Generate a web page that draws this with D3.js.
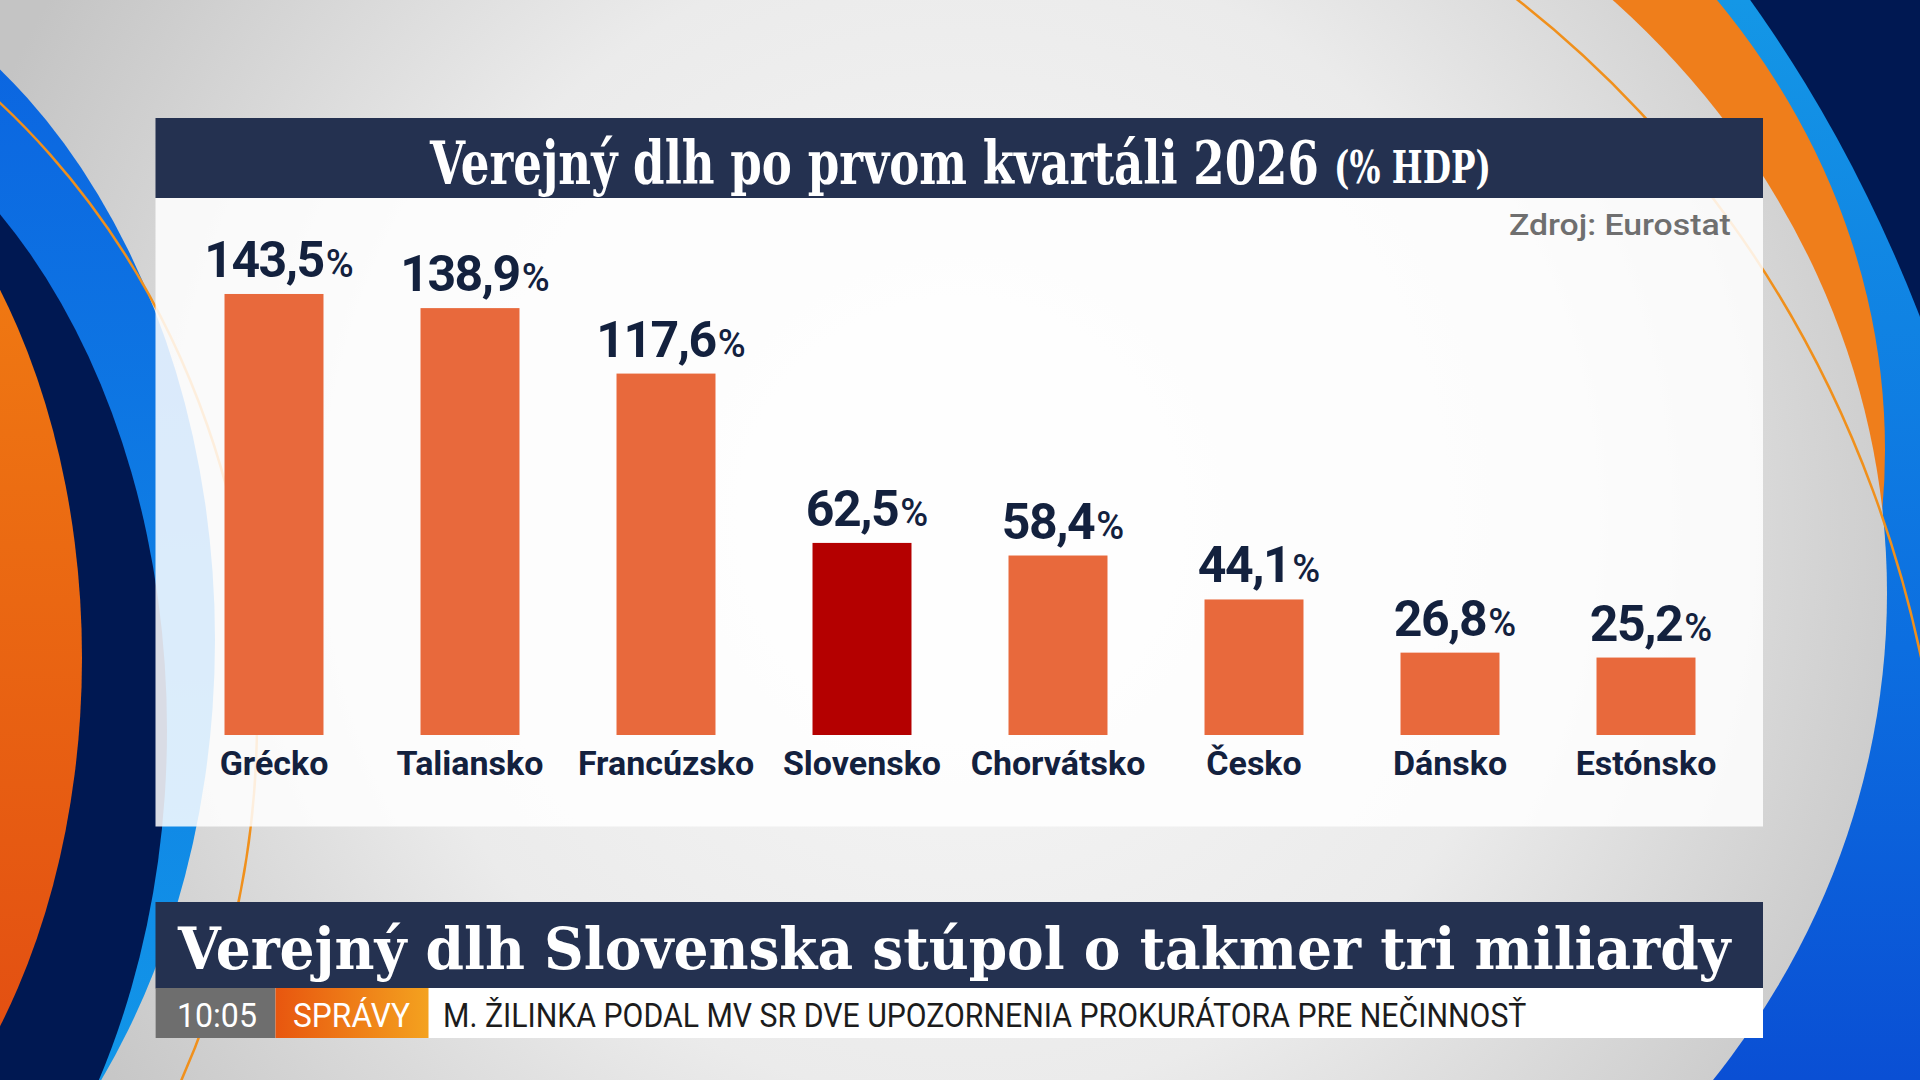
<!DOCTYPE html>
<html>
<head>
<meta charset="utf-8">
<script src="https://cdn.jsdelivr.net/npm/d3@7"></script>
<style>
  html, body { margin: 0; padding: 0; overflow: hidden; background: #dcdcdc; }
  svg { display: block; }
</style>
</head>
<body>
<svg id="chart" width="1920" height="1080"></svg>
<script>
const countries = ["Grécko", "Taliansko", "Francúzsko", "Slovensko", "Chorvátsko", "Česko", "Dánsko", "Estónsko"];
const debtValues = [143.5, 138.9, 117.6, 62.5, 58.4, 44.1, 26.8, 25.2];
const highlighted = "Slovensko";

const chartTitle = "Verejný dlh po prvom kvartáli 2026";
const titleUnit = "(% HDP)";
const sourceNote = "Zdroj: Eurostat";
const headline = "Verejný dlh Slovenska stúpol o takmer tri miliardy";
const tickerTime = "10:05";
const tickerLabel = "SPRÁVY";
const tickerNews = "M. ŽILINKA PODAL MV SR DVE UPOZORNENIA PROKURÁTORA PRE NEČINNOSŤ";

const svg = d3.select("#chart");
const W = 1920, H = 1080;
const navy = "#243150";
const ink = "#13213e";

const sk = d3.formatLocale({ decimal: ",", thousands: " ", grouping: [3], currency: ["", " €"] });
const fmt = sk.format(".1f");

// text squeezed horizontally to a given width (the broadcast fonts are condensed)
function fitText(parent, str, x, y, width, attrs) {
    const g = parent.append("g");
    const t = g.append("text").attr("x", 0).attr("y", 0).text(str);
    Object.entries(attrs).forEach(([k, v]) => t.attr(k, v));
    const natural = t.node().getComputedTextLength();
    g.attr("transform", `translate(${x},${y}) scale(${width / natural},1)`);
    return t;
}

// ---------- defs ----------
const defs = svg.append("defs");

const bg = defs.append("radialGradient").attr("id", "bgGrad")
    .attr("gradientUnits", "userSpaceOnUse")
    .attr("cx", 960).attr("cy", 520).attr("r", 1050);
bg.append("stop").attr("offset", "0%").attr("stop-color", "#f8f8f8");
bg.append("stop").attr("offset", "55%").attr("stop-color", "#ebebeb");
bg.append("stop").attr("offset", "100%").attr("stop-color", "#c4c4c4");

const blueR = defs.append("linearGradient").attr("id", "blueR")
    .attr("gradientUnits", "userSpaceOnUse").attr("x1", 0).attr("y1", 0).attr("x2", 0).attr("y2", 1080);
blueR.append("stop").attr("offset", "0%").attr("stop-color", "#1497e6");
blueR.append("stop").attr("offset", "60%").attr("stop-color", "#0c6ee0");
blueR.append("stop").attr("offset", "100%").attr("stop-color", "#0a4fd4");

const blueL = defs.append("linearGradient").attr("id", "blueL")
    .attr("gradientUnits", "userSpaceOnUse").attr("x1", 0).attr("y1", 0).attr("x2", 0).attr("y2", 1080);
blueL.append("stop").attr("offset", "0%").attr("stop-color", "#0b63e0");
blueL.append("stop").attr("offset", "100%").attr("stop-color", "#1296e8");

const orangeL = defs.append("linearGradient").attr("id", "orangeL")
    .attr("gradientUnits", "userSpaceOnUse").attr("x1", 0).attr("y1", 250).attr("x2", 0).attr("y2", 1080);
orangeL.append("stop").attr("offset", "0%").attr("stop-color", "#f07a12");
orangeL.append("stop").attr("offset", "100%").attr("stop-color", "#e24d12");

const tick = defs.append("linearGradient").attr("id", "tickGrad");
tick.append("stop").attr("offset", "0%").attr("stop-color", "#e8560f");
tick.append("stop").attr("offset", "100%").attr("stop-color", "#f4a21f");

defs.append("clipPath").attr("id", "clipRight")
    .append("rect").attr("x", 960).attr("y", 0).attr("width", 960).attr("height", H);
defs.append("clipPath").attr("id", "clipLeft")
    .append("rect").attr("x", 0).attr("y", 0).attr("width", 760).attr("height", H);

// ---------- background ----------
svg.append("rect").attr("width", W).attr("height", H).attr("fill", "url(#bgGrad)");

const right = svg.append("g").attr("clip-path", "url(#clipRight)");
right.append("rect").attr("x", 960).attr("width", 960).attr("height", H).attr("fill", "#001852");
right.append("ellipse").attr("cx", 900).attr("cy", 900).attr("rx", 1127).attr("ry", 1371).attr("fill", "url(#blueR)");
right.append("ellipse").attr("cx", 960).attr("cy", 450).attr("rx", 925).attr("ry", 783).attr("fill", "#ef7e1b");
right.append("ellipse").attr("cx", 960).attr("cy", 593).attr("rx", 927).attr("ry", 835).attr("fill", "url(#bgGrad)");
right.append("ellipse").attr("cx", 900).attr("cy", 900).attr("rx", 1046).attr("ry", 1115)
    .attr("fill", "none").attr("stroke", "#f0901c").attr("stroke-width", 2.5);

const left = svg.append("g").attr("clip-path", "url(#clipLeft)");
left.append("ellipse").attr("cx", -300).attr("cy", 640).attr("rx", 515).attr("ry", 702).attr("fill", "url(#blueL)");
left.append("ellipse").attr("cx", -300).attr("cy", 730).attr("rx", 467).attr("ry", 673).attr("fill", "#001852");
left.append("ellipse").attr("cx", -300).attr("cy", 658).attr("rx", 382).attr("ry", 595).attr("fill", "url(#orangeL)");
left.append("ellipse").attr("cx", -450).attr("cy", 720).attr("rx", 707).attr("ry", 800)
    .attr("fill", "none").attr("stroke", "#f0901c").attr("stroke-width", 2.5);

// ---------- panel ----------
const panel = { x: 155.5, y: 198, w: 1607.5, h: 628.5 };
svg.append("rect").attr("x", panel.x).attr("y", panel.y).attr("width", panel.w).attr("height", panel.h)
    .attr("fill", "#ffffff").attr("fill-opacity", 0.85);

svg.append("rect").attr("x", panel.x).attr("y", 118).attr("width", panel.w).attr("height", 80)
    .attr("fill", navy);

const serif = { "font-family": "DejaVu Serif", "font-weight": 700, fill: "#fff" };
fitText(svg, chartTitle, 430, 184, 889, { ...serif, "font-size": 60 });
fitText(svg, titleUnit, 1334, 183, 157, { ...serif, "font-size": 44 });

fitText(svg, sourceNote, 1509, 235, 222,
    { "font-family": "Roboto", "font-weight": 500, "font-size": 30, fill: "#6f6f6f" });

// ---------- bars ----------
const x = d3.scaleBand().domain(countries).range([176, 1744]).paddingInner(0.495).paddingOuter(0.2475);
const y = d3.scaleLinear().domain([0, 150]).range([735, 735 - 461]);

const rows = countries.map((c, i) => ({ country: c, value: debtValues[i] }));

svg.append("g").selectAll("rect").data(rows).join("rect")
    .attr("x", d => x(d.country))
    .attr("y", d => y(d.value))
    .attr("width", x.bandwidth())
    .attr("height", d => y(0) - y(d.value))
    .attr("fill", d => d.country === highlighted ? "#b40000" : "#e8693c");

const labels = svg.append("g").selectAll("text.val").data(rows).join("text")
    .attr("class", "val")
    .attr("x", d => x(d.country) + x.bandwidth() / 2 + 5)
    .attr("y", d => y(d.value) - 17)
    .attr("text-anchor", "middle")
    .attr("font-family", "Roboto")
    .attr("fill", ink);
labels.append("tspan").attr("font-weight", 700).attr("font-size", 50).attr("letter-spacing", -1.5)
    .text(d => fmt(d.value));
labels.append("tspan").attr("font-weight", 500).attr("font-size", 38).attr("dx", 2).text("%");

// category axis, drawn with d3.axisBottom and restyled
const axis = svg.append("g").attr("transform", "translate(0,735)")
    .call(d3.axisBottom(x).tickSize(0).tickPadding(40));
axis.select(".domain").remove();
axis.selectAll("text")
    .attr("font-family", "Roboto").attr("font-weight", 700).attr("font-size", 34)
    .attr("fill", ink).attr("dy", 0);

// ---------- lower third ----------
svg.append("rect").attr("x", panel.x).attr("y", 902).attr("width", panel.w).attr("height", 87).attr("fill", navy);
fitText(svg, headline, 178, 969, 1553, { ...serif, "font-size": 58 });

svg.append("rect").attr("x", panel.x).attr("y", 988).attr("width", panel.w).attr("height", 50).attr("fill", "#ffffff");
svg.append("rect").attr("x", panel.x).attr("y", 988).attr("width", 120).attr("height", 50).attr("fill", "#6e6e6e");
svg.append("rect").attr("x", 275.5).attr("y", 988).attr("width", 153).attr("height", 50).attr("fill", "url(#tickGrad)");

const sans = { "font-family": "Roboto", "font-size": 33 };
fitText(svg, tickerTime, 177, 1027, 80, { ...sans, fill: "#fff" });
fitText(svg, tickerLabel, 293, 1027, 117, { ...sans, fill: "#fff" });
fitText(svg, tickerNews, 443, 1027, 1084, { ...sans, fill: "#1c1c1c" });
</script>
</body>
</html>
